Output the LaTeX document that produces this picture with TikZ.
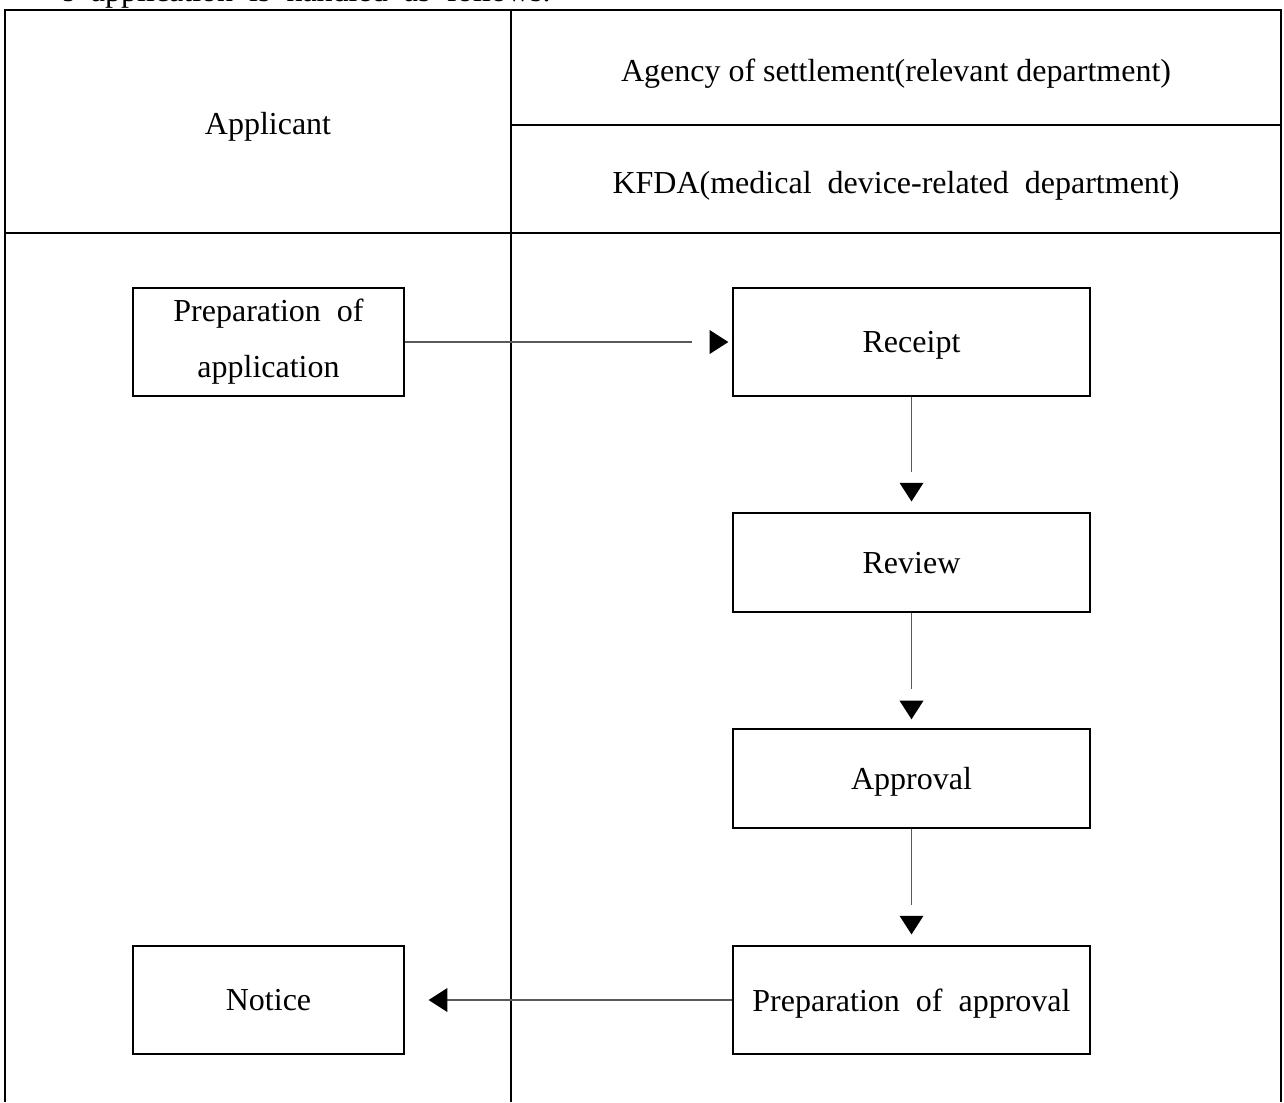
\documentclass[tikz,border=0pt]{standalone}
\usepackage{fontspec}
\setmainfont{Liberation Serif}
\usetikzlibrary{arrows.meta,decorations.markings}

\tikzset{
  stepbox/.style={draw, line width=0.5pt, minimum width=133.9pt, minimum height=37.1pt, align=center, inner sep=0pt, text depth=0pt},
  sidebox/.style={draw, line width=0.5pt, minimum width=101.6pt, minimum height=40.5pt, align=center, inner sep=0pt},
  flow/.style 2 args={draw=black!65, line width=0.5pt, shorten >=#2,
    postaction={decorate, decoration={markings,
      mark=at position -#1 with {\fill[black] (0,0) -- (-7pt,4.5pt) -- (-7pt,-4.5pt) -- cycle;}}}}
}

\begin{document}
\begin{tikzpicture}[x=0.375pt,y=-0.375pt,font=\fontsize{12}{15}\selectfont]
\useasboundingbox (0,0) rectangle (1284,1102);
\clip (0,0) rectangle (1284,1102);
% text above the table, cut off by the page
\node[anchor=base west, inner sep=0pt] (intro) at (62,1) {s\ \ application\ \ is\ \ handled\ \ as\ \ follows.};
% table
\draw[line width=1.1pt] (5,1102) -- (5,10) -- (1281,10) -- (1281,1102);
\draw[line width=0.4pt] (511,10) -- (511,1102);
\draw[line width=0.4pt] (511,125) -- (1281,125);
\draw[line width=0.4pt] (5,233) -- (1281,233);
\node[text depth=0pt] (applicant) at (268,123) {Applicant};
\node[text depth=0pt] (agency) at (896,70) {Agency\ of\ settlement(relevant\ department)};
\node[text depth=0pt] (kfda) at (896,182) {KFDA(medical\ \ device-related\ \ department)};
% boxes
\node[sidebox] (prepapp) at (268.5,342) {Preparation\ \ of\\[6pt]application};
\node[sidebox, text depth=0pt] (notice) at (268.5,1000) {Notice};
\node[stepbox, minimum height=40.5pt] (receipt) at (911.5,342) {Receipt};
\node[stepbox] (review) at (911.5,562.5) {Review};
\node[stepbox] (approval) at (911.5,778.5) {Approval};
\node[stepbox, minimum height=40.5pt] (prepappr) at (911.5,1000) {Preparation\ \ of\ \ approval};
% arrows
\draw[flow={1.5pt}{15.3pt}] (prepapp) -- (receipt);
\draw[flow={4.1pt}{15pt}] (receipt) -- (review);
\draw[flow={3.4pt}{14.6pt}] (review) -- (approval);
\draw[flow={4.1pt}{15pt}] (approval) -- (prepappr);
\draw[flow={9pt}{15.5pt}] (prepappr) -- (notice);
\end{tikzpicture}
\end{document}
